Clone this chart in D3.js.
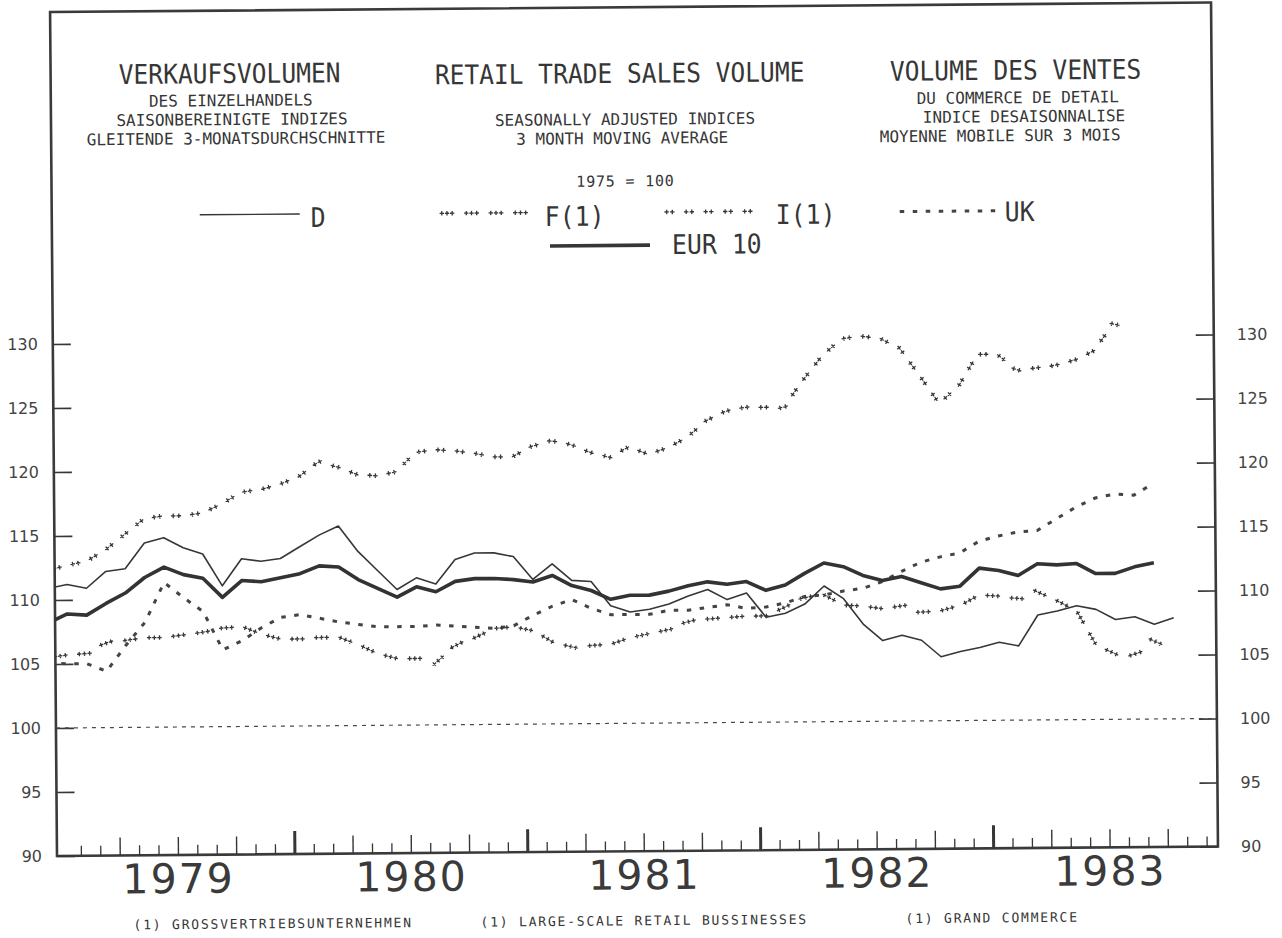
<!DOCTYPE html>
<html>
<head>
<meta charset="utf-8">
<script src="https://cdn.jsdelivr.net/npm/d3@7"></script>
<style>
  body { margin: 0; background: #fff; }
  svg { display: block; }
</style>
</head>
<body>
<div class="visContainer"></div>
<script>
// Monthly series, 3 month moving averages (1975 = 100).
// First value is December 1978 (month -1, counted from January 1979).
const firstMonth = -1;
const years = ['1979', '1980', '1981', '1982', '1983'];
const yTicks = [90, 95, 100, 105, 110, 115, 120, 125, 130];

const seriesD = [110.9, 111.2, 110.9, 112.2, 112.4, 114.4, 114.8, 114.0, 113.5, 111.0, 113.1, 112.9,
  113.1, 114.0, 114.9, 115.6, 113.6, 112.1, 110.6, 111.5, 111.0, 112.9, 113.4, 113.4,
  113.1, 111.3, 112.5, 111.2, 111.1, 109.2, 108.7, 108.9, 109.3, 109.9, 110.4, 109.6,
  110.1, 108.2, 108.5, 109.2, 110.6, 109.6, 107.6, 106.3, 106.7, 106.3, 105.0, 105.4,
  105.7, 106.1, 105.8, 108.2, 108.5, 108.9, 108.6, 107.8, 108.0, 107.4, 107.9];

const seriesEUR = [108.2, 108.9, 108.8, 109.7, 110.5, 111.7, 112.5, 111.9, 111.6, 110.1, 111.4, 111.3,
  111.6, 111.9, 112.5, 112.4, 111.4, 110.7, 110.0, 110.8, 110.4, 111.2, 111.4, 111.4,
  111.3, 111.1, 111.6, 110.8, 110.4, 109.7, 110.0, 110.0, 110.3, 110.7, 111.0, 110.8,
  111.0, 110.3, 110.7, 111.6, 112.4, 112.1, 111.4, 111.0, 111.3, 110.8, 110.3, 110.5,
  111.9, 111.7, 111.3, 112.2, 112.1, 112.2, 111.4, 111.4, 111.9, 112.2];

const seriesI = [112.3, 112.7, 113.0, 113.9, 115.1, 116.3, 116.5, 116.5, 116.7, 117.4, 118.3, 118.5,
  118.9, 119.5, 120.6, 120.2, 119.6, 119.5, 119.8, 121.3, 121.5, 121.4, 121.2, 120.9,
  120.9, 121.7, 122.1, 121.8, 121.2, 120.8, 121.6, 121.0, 121.5, 122.3, 123.6, 124.3,
  124.6, 124.6, 124.6, 126.7, 128.6, 129.9, 130.1, 129.9, 129.1, 127.0, 124.8, 126.1,
  128.6, 128.6, 127.4, 127.5, 127.7, 128.1, 128.8, 130.9, 130.4];

const seriesF = [105.5, 105.7, 105.8, 106.6, 106.8, 107.0, 107.0, 107.2, 107.4, 107.7, 107.8, 107.2,
  106.8, 106.8, 106.9, 106.9, 106.3, 105.6, 105.2, 105.2, 104.9, 106.2, 106.8, 107.5,
  107.6, 107.3, 106.4, 106.0, 106.1, 106.2, 106.7, 107.0, 107.3, 107.9, 108.1, 108.2,
  108.3, 108.3, 109.0, 109.7, 109.9, 109.1, 109.0, 108.8, 109.0, 108.5, 108.6, 109.0,
  109.8, 109.7, 109.5, 110.0, 109.3, 108.5, 105.8, 105.1, 105.1, 106.1, 105.0];

const seriesUK = [105.1, 105.0, 105.0, 104.4, 106.4, 108.2, 111.3, 110.1, 109.0, 106.0, 106.7, 107.7,
  108.5, 108.7, 108.4, 108.1, 107.9, 107.7, 107.7, 107.7, 107.8, 107.7, 107.6, 107.5,
  107.7, 108.5, 109.2, 109.7, 109.0, 108.5, 108.5, 108.5, 108.8, 108.8, 109.0, 109.2,
  108.9, 109.0, 109.3, 109.8, 109.9, 110.2, 110.4, 110.9, 111.7, 112.4, 112.8, 113.1,
  114.0, 114.4, 114.7, 114.8, 115.7, 116.6, 117.3, 117.6, 117.5, 118.4];

// Page geometry.
const width = 1282;
const height = 938;
const plotLeft = 57;
const plotRight = 1218;
const plotTop = 12;
const plotBottom = 856;
const monthWidth = 19.41;
const pointOffset = 0.4;
const ink = '#363636';

const xScale = d3.scaleLinear()
                 .domain([0, 60])
                 .range([61.5, 61.5 + 60 * monthWidth]);
const yScale = d3.scaleLinear()
                 .domain([90, 130])
                 .range([plotBottom, 344]);

const line = d3.line()
               .x((d, i) => xScale(firstMonth + i + pointOffset))
               .y((d) => yScale(d));

const svg = d3.select('.visContainer')
              .append('svg')
              .attr('width', width)
              .attr('height', height);

svg.append('rect')
   .attr('width', width)
   .attr('height', height)
   .attr('fill', '#fff');

// The scanned sheet sits slightly askew.
const page = svg.append('g')
                .attr('transform', 'rotate(-0.47,' + plotLeft + ',' + plotBottom + ')');

page.append('clipPath')
    .attr('id', 'plot-clip')
    .append('rect')
    .attr('x', plotLeft)
    .attr('y', plotTop)
    .attr('width', plotRight - plotLeft)
    .attr('height', plotBottom - plotTop);

// Plus sign groups placed along a path at even arc length.
function plusLine(g, pathData, spacing, count, gap, size) {
    const guide = g.append('path')
                   .attr('d', pathData)
                   .attr('fill', 'none')
                   .attr('stroke', 'none');
    const node = guide.node();
    const total = node.getTotalLength();
    for (let len = spacing / 2; len <= total; len += spacing) {
        const p = node.getPointAtLength(len);
        const a = node.getPointAtLength(Math.max(0, len - 2));
        const b = node.getPointAtLength(Math.min(total, len + 2));
        const angle = Math.atan2(b.y - a.y, b.x - a.x) * 180 / Math.PI;
        let d = '';
        for (let k = 0; k < count; k++) {
            const dx = (k - (count - 1) / 2) * gap;
            d += 'M' + (dx - size) + ',0H' + (dx + size) + 'M' + dx + ',' + (-size) + 'V' + size;
        }
        g.append('path')
         .attr('d', d)
         .attr('transform', 'translate(' + p.x + ',' + p.y + ') rotate(' + angle + ')')
         .attr('stroke', ink)
         .attr('stroke-width', 1.3)
         .attr('fill', 'none');
    }
}

// Header texts. Big lines use a narrowed mono face like the plotter lettering.
const headerLines = [
    { t: 'VERKAUFSVOLUMEN', x: 236, y: 84.5, s: 27 },
    { t: 'DES EINZELHANDELS', x: 237, y: 107.5, s: 16 },
    { t: 'SAISONBEREINIGTE INDIZES', x: 238, y: 126.5, s: 16 },
    { t: 'GLEITENDE 3-MONATSDURCHSCHNITTE', x: 242, y: 145.5, s: 16 },
    { t: 'RETAIL TRADE SALES VOLUME', x: 626, y: 87.5, s: 27 },
    { t: 'SEASONALLY ADJUSTED INDICES', x: 631, y: 129.5, s: 16 },
    { t: '3 MONTH MOVING AVERAGE', x: 628, y: 148.5, s: 16 },
    { t: '1975 = 100', x: 631, y: 191, s: 15 },
    { t: 'VOLUME DES VENTES', x: 1022, y: 87.5, s: 27 },
    { t: 'DU COMMERCE DE DETAIL', x: 1024, y: 111, s: 16 },
    { t: 'INDICE DESAISONNALISE', x: 1030, y: 130, s: 16 },
    { t: 'MOYENNE MOBILE SUR 3 MOIS', x: 1006, y: 149, s: 16 }
];

page.selectAll('text.header')
    .data(headerLines)
    .enter()
    .append('text')
    .attr('class', 'header')
    .attr('transform', (d) => 'translate(' + d.x + ',' + d.y + ') scale(' + (d.s > 20 ? 0.91 : 1) + ',1)')
    .attr('text-anchor', 'middle')
    .attr('font-family', 'DejaVu Sans Mono')
    .attr('font-size', (d) => d.s + 'px')
    .attr('letter-spacing', (d) => (d.t === '1975 = 100' ? '0.8px' : null))
    .attr('fill', ink)
    .text((d) => d.t);

// Legend.
const legend = page.append('g');
legend.append('line')
      .attr('x1', 205).attr('x2', 305).attr('y1', 216).attr('y2', 216)
      .attr('stroke', ink).attr('stroke-width', 1.4);
plusLine(legend, 'M440,216.5H537', 24.5, 3, 5.2, 2.2);
plusLine(legend, 'M665,217H765', 19.5, 2, 5.6, 2.2);
legend.append('line')
      .attr('x1', 905).attr('x2', 1001).attr('y1', 218.5).attr('y2', 218.5)
      .attr('stroke', '#444').attr('stroke-width', 3).attr('stroke-dasharray', '4.5 8.5');
legend.append('line')
      .attr('x1', 555).attr('x2', 655).attr('y1', 250).attr('y2', 250)
      .attr('stroke', ink).attr('stroke-width', 3.6);

const legendLabels = [
    { t: 'D', x: 316, y: 229 },
    { t: 'F(1)', x: 550, y: 230 },
    { t: 'I(1)', x: 781, y: 230 },
    { t: 'UK', x: 1010, y: 229 },
    { t: 'EUR 10', x: 677, y: 259 }
];
legend.selectAll('text')
      .data(legendLabels)
      .enter()
      .append('text')
      .attr('transform', (d) => 'translate(' + d.x + ',' + d.y + ') scale(0.92,1)')
      .attr('font-family', 'DejaVu Sans Mono')
      .attr('font-size', '27px')
      .attr('fill', ink)
      .text((d) => d.t);

// Frame.
page.append('rect')
    .attr('x', plotLeft)
    .attr('y', plotTop)
    .attr('width', plotRight - plotLeft)
    .attr('height', plotBottom - plotTop)
    .attr('fill', 'none')
    .attr('stroke', '#3a3a3a')
    .attr('stroke-width', 2.6);

// Y axes, ticks pointing into the frame.
const yAxisLeft = d3.axisLeft(yScale).tickValues(yTicks).tickSize(-18).tickPadding(15);
const yAxisRight = d3.axisRight(yScale).tickValues(yTicks).tickSize(-18).tickPadding(23);

[[yAxisLeft, plotLeft], [yAxisRight, plotRight]].forEach(([axis, x]) => {
    const g = page.append('g')
                  .attr('transform', 'translate(' + x + ',0)')
                  .call(axis);
    g.select('.domain').remove();
    g.selectAll('line').attr('stroke', ink).attr('stroke-width', 1.6);
    g.selectAll('text')
     .attr('font-family', 'DejaVu Sans')
     .attr('font-size', '16px')
     .attr('fill', '#444');
});

// Month ticks along the bottom: monthly, quarterly, yearly.
const monthTicks = d3.range(1, 60);
const tickKinds = [
    { values: monthTicks.filter((m) => m % 3 !== 0), size: 10, w: 1.3 },
    { values: monthTicks.filter((m) => m % 3 === 0 && m % 12 !== 0), size: 18, w: 1.4 },
    { values: monthTicks.filter((m) => m % 12 === 0), size: 23, w: 3 }
];
tickKinds.forEach((k) => {
    const g = page.append('g')
                  .attr('transform', 'translate(0,' + plotBottom + ')')
                  .call(d3.axisTop(xScale).tickValues(k.values).tickSize(k.size).tickFormat(''));
    g.select('.domain').remove();
    g.selectAll('line').attr('stroke', ink).attr('stroke-width', k.w);
});

// Year labels centred on each year.
const yearAxis = page.append('g')
                     .attr('id', 'x-axis')
                     .attr('transform', 'translate(0,' + plotBottom + ')')
                     .call(d3.axisBottom(xScale)
                             .tickValues(years.map((y, i) => 6 + 12 * i))
                             .tickSize(0)
                             .tickFormat((d, i) => years[i]));
yearAxis.select('.domain').remove();
yearAxis.selectAll('text')
        .attr('y', 38)
        .attr('dy', null)
        .attr('font-family', 'DejaVu Sans')
        .attr('font-size', '41px')
        .attr('letter-spacing', '2px')
        .attr('fill', '#3a3a3a');

// Base line at 100.
page.append('line')
    .attr('x1', plotLeft)
    .attr('x2', plotRight)
    .attr('y1', yScale(100))
    .attr('y2', yScale(100))
    .attr('stroke', '#4a4a4a')
    .attr('stroke-width', 1.2)
    .attr('stroke-dasharray', '4 5');

// Series.
const plot = page.append('g').attr('clip-path', 'url(#plot-clip)');

plot.append('path')
    .attr('d', line(seriesUK))
    .attr('fill', 'none')
    .attr('stroke', '#444')
    .attr('stroke-width', 3)
    .attr('stroke-dasharray', '4.5 8.5');

plot.append('path')
    .attr('d', line(seriesD))
    .attr('fill', 'none')
    .attr('stroke', ink)
    .attr('stroke-width', 1.6)
    .attr('stroke-linejoin', 'round');

plot.append('path')
    .attr('d', line(seriesEUR))
    .attr('fill', 'none')
    .attr('stroke', '#333')
    .attr('stroke-width', 3.6)
    .attr('stroke-linejoin', 'round');

plusLine(plot, line(seriesF), 24.3, 3, 5.2, 2.2);
plusLine(plot, line(seriesI), 19.2, 2, 5.6, 2.3);

// Footnotes.
const footnotes = [
    { t: '(1) GROSSVERTRIEBSUNTERNEHMEN', x: 133 },
    { t: '(1) LARGE-SCALE RETAIL BUSSINESSES', x: 480 },
    { t: '(1) GRAND COMMERCE', x: 905 }
];
page.selectAll('text.foot')
    .data(footnotes)
    .enter()
    .append('text')
    .attr('class', 'foot')
    .attr('x', (d) => d.x)
    .attr('y', 930)
    .attr('font-family', 'DejaVu Sans Mono')
    .attr('font-size', '13px')
    .attr('letter-spacing', '1.8px')
    .attr('fill', ink)
    .text((d) => d.t);
</script>
</body>
</html>
